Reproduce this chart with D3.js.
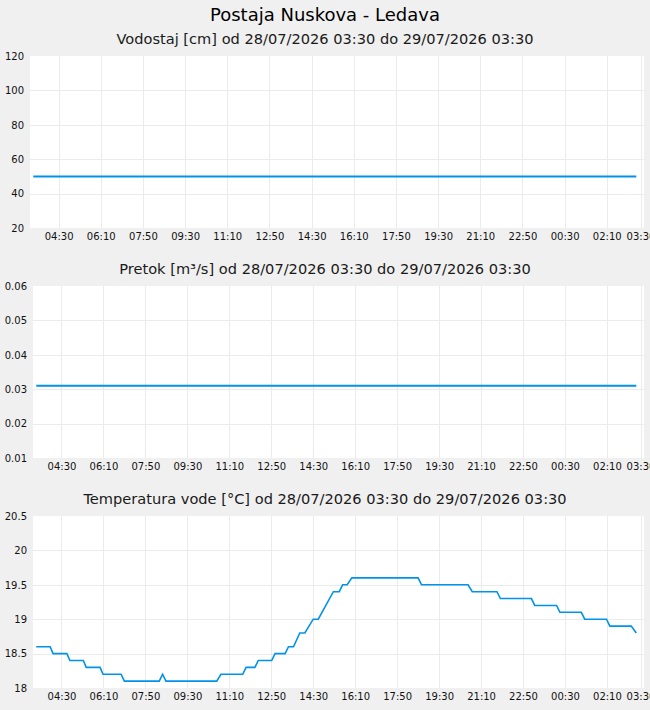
<!DOCTYPE html>
<html>
<head>
<meta charset="utf-8">
<script src="https://cdn.jsdelivr.net/npm/d3@7"></script>
<style>
  body { margin: 0; background: #f0f0f0; }
  svg { display: block; font-family: "DejaVu Sans", sans-serif; }
</style>
</head>
<body>
<div id="chart"></div>
<script>
// values
const title = "Postaja Nuskova - Ledava";
const periodText = "od 28/07/2026 03:30 do 29/07/2026 03:30";
const domainStart = "2026-07-28 03:30";
const domainEnd = "2026-07-29 03:30";

const xTicks = ["2026-07-28 04:30", "2026-07-28 06:10", "2026-07-28 07:50", "2026-07-28 09:30",
  "2026-07-28 11:10", "2026-07-28 12:50", "2026-07-28 14:30", "2026-07-28 16:10",
  "2026-07-28 17:50", "2026-07-28 19:30", "2026-07-28 21:10", "2026-07-28 22:50",
  "2026-07-29 00:30", "2026-07-29 02:10", "2026-07-29 03:30"];

const levelTimes = ["2026-07-28 03:30", "2026-07-29 03:20"];
const levelValues = [50, 50];
const levelTicks = [20, 40, 60, 80, 100, 120];

const flowTimes = ["2026-07-28 03:30", "2026-07-29 03:20"];
const flowValues = [0.031, 0.031];
const flowTicks = [0.01, 0.02, 0.03, 0.04, 0.05, 0.06];

const tempTimes = ["2026-07-28 03:30", "2026-07-28 04:03", "2026-07-28 04:10", "2026-07-28 04:43",
  "2026-07-28 04:50", "2026-07-28 05:22", "2026-07-28 05:29", "2026-07-28 06:02",
  "2026-07-28 06:09", "2026-07-28 06:52", "2026-07-28 07:00", "2026-07-28 08:23",
  "2026-07-28 08:31", "2026-07-28 08:39", "2026-07-28 10:40", "2026-07-28 10:50",
  "2026-07-28 11:42", "2026-07-28 11:50", "2026-07-28 12:11", "2026-07-28 12:19",
  "2026-07-28 12:51", "2026-07-28 12:59", "2026-07-28 13:23", "2026-07-28 13:31",
  "2026-07-28 13:43", "2026-07-28 13:58", "2026-07-28 14:10", "2026-07-28 14:30",
  "2026-07-28 14:42", "2026-07-28 15:18", "2026-07-28 15:32", "2026-07-28 15:40",
  "2026-07-28 15:51", "2026-07-28 16:02", "2026-07-28 18:40", "2026-07-28 18:48",
  "2026-07-28 20:39", "2026-07-28 20:49", "2026-07-28 21:48", "2026-07-28 21:56",
  "2026-07-28 23:10", "2026-07-28 23:18", "2026-07-29 00:10", "2026-07-29 00:18",
  "2026-07-29 01:09", "2026-07-29 01:17", "2026-07-29 02:09", "2026-07-29 02:17",
  "2026-07-29 03:08", "2026-07-29 03:20"];
const tempValues = [18.6, 18.6, 18.5, 18.5,
  18.4, 18.4, 18.3, 18.3,
  18.2, 18.2, 18.1, 18.1,
  18.2, 18.1, 18.1, 18.2,
  18.2, 18.3, 18.3, 18.4,
  18.4, 18.5, 18.5, 18.6,
  18.6, 18.8, 18.8, 19.0,
  19.0, 19.4, 19.4, 19.5,
  19.5, 19.6, 19.6, 19.5,
  19.5, 19.4, 19.4, 19.3,
  19.3, 19.2, 19.2, 19.1,
  19.1, 19.0, 19.0, 18.9,
  18.9, 18.8];
const tempTicks = [18, 18.5, 19, 19.5, 20, 20.5];

const parse = d3.timeParse("%Y-%m-%d %H:%M");
const fmtTime = d3.timeFormat("%H:%M");

const width = 650, height = 710;
const lineColor = "#0093e9";
const gridColor = "#ebebeb";

const svg = d3.select("#chart").append("svg")
  .attr("width", width)
  .attr("height", height);

svg.append("text")
  .attr("x", 325).attr("y", 21)
  .attr("text-anchor", "middle")
  .attr("font-size", 18)
  .attr("fill", "#000")
  .text(title);

const panels = [
  { name: "Vodostaj [cm]", times: levelTimes, values: levelValues, ticks: levelTicks,
    fmt: d => String(d), left: 30, top: 56, width: 2 },
  { name: "Pretok [m³/s]", times: flowTimes, values: flowValues, ticks: flowTicks,
    fmt: d3.format(".2f"), left: 33, top: 286, width: 2 },
  { name: "Temperatura vode [°C]", times: tempTimes, values: tempValues, ticks: tempTicks,
    fmt: d => String(d), left: 33, top: 516, width: 1.6 }
];

panels.forEach(p => {
  const right = 644, plotH = 172;
  const bottom = p.top + plotH;
  const g = svg.append("g");

  // subtitle
  g.append("text")
    .attr("x", 325).attr("y", p.top - 12)
    .attr("text-anchor", "middle")
    .attr("font-size", 14.6)
    .attr("fill", "#1a1a1a")
    .text(p.name + " " + periodText);

  g.append("rect")
    .attr("x", p.left).attr("y", p.top)
    .attr("width", right - p.left).attr("height", plotH)
    .attr("fill", "#fff");

  const x = d3.scaleTime()
    .domain([parse(domainStart), parse(domainEnd)])
    .range([p.left + 3.3, right - 3.5]);
  const y = d3.scaleLinear()
    .domain(d3.extent(p.ticks))
    .range([bottom, p.top]);

  const tickDates = xTicks.map(parse);

  // grid
  g.append("g").selectAll("line.v")
    .data(tickDates)
    .join("line")
    .attr("x1", d => Math.round(x(d)) + 0.5).attr("x2", d => Math.round(x(d)) + 0.5)
    .attr("y1", p.top).attr("y2", bottom)
    .attr("stroke", gridColor);
  g.append("g").selectAll("line.h")
    .data(p.ticks.slice(1, -1))
    .join("line")
    .attr("x1", p.left).attr("x2", right)
    .attr("y1", d => Math.round(y(d)) + 0.5).attr("y2", d => Math.round(y(d)) + 0.5)
    .attr("stroke", gridColor);

  // axes labels
  const xAxis = d3.axisBottom(x).tickValues(tickDates).tickFormat(fmtTime).tickSize(0).tickPadding(5);
  const xg = g.append("g").attr("transform", `translate(0,${bottom})`).call(xAxis);
  const yAxis = d3.axisLeft(y).tickValues(p.ticks).tickFormat(p.fmt).tickSize(0).tickPadding(6);
  const yg = g.append("g").attr("transform", `translate(${p.left},0)`).call(yAxis);
  [xg, yg].forEach(a => {
    a.select(".domain").remove();
    a.selectAll("text").attr("font-size", 10).attr("fill", "#111")
      .attr("font-family", "DejaVu Sans, sans-serif");
  });

  const pts = p.times.map((t, i) => [parse(t), p.values[i]]);
  const line = d3.line().x(d => x(d[0])).y(d => y(d[1]));
  g.append("path")
    .datum(pts)
    .attr("d", line)
    .attr("fill", "none")
    .attr("stroke", lineColor)
    .attr("stroke-width", p.width);
});
</script>
</body>
</html>
